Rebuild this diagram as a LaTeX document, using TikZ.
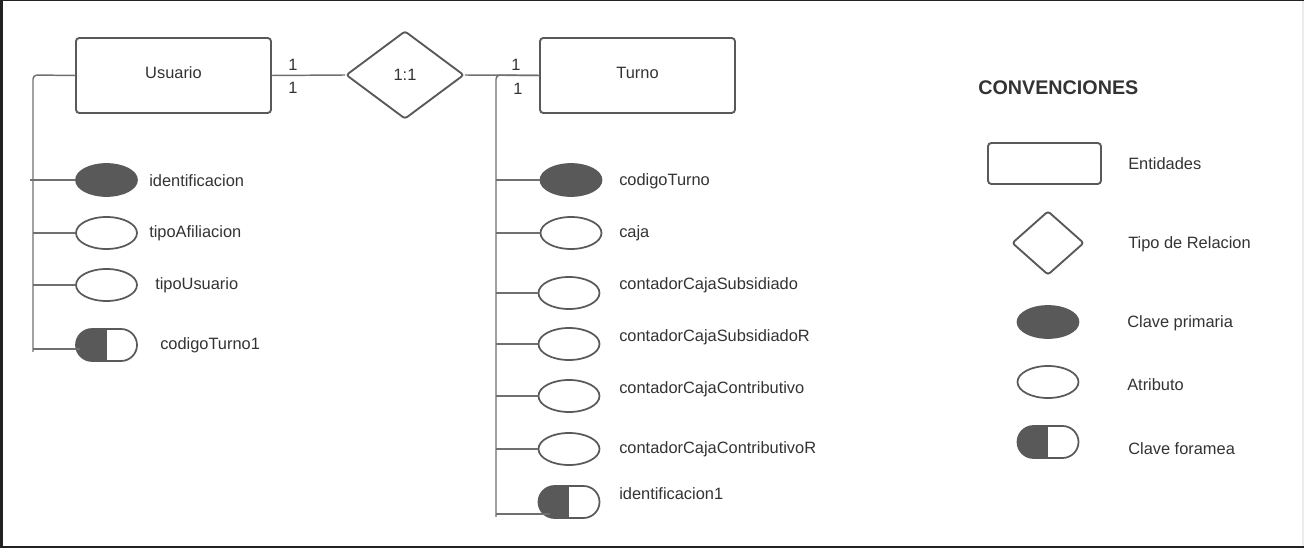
\documentclass[tikz,border=0pt]{standalone}
\usepackage{fontspec}
\setmainfont{Liberation Sans}
\usepackage{tikz}
\usetikzlibrary{shapes,positioning}
\usepackage{xcolor}
\definecolor{ergris}{RGB}{89,89,89}
\definecolor{erlinea}{RGB}{112,112,112}
\definecolor{ertexto}{RGB}{51,51,51}
\definecolor{erfondo}{RGB}{34,34,34}
\definecolor{erborde}{RGB}{236,236,236}
\tikzstyle{entidad} = [rectangle, rounded corners=2.5pt, minimum width=146.25pt, minimum height=56.25pt, inner sep=0pt, text height=0.75em, text depth=0.32em, draw=ergris, line width=1.4pt, fill=white, text=ertexto, font=\fontsize{12.3}{15}\selectfont]
\tikzstyle{relacion} = [diamond, rounded corners=2pt, minimum width=88.5pt, minimum height=66pt, inner sep=0pt, draw=ergris, line width=1.4pt, fill=white, text=ertexto, font=\fontsize{12.3}{15}\selectfont]
\tikzstyle{atributo} = [ellipse, minimum width=45.75pt, minimum height=24pt, inner sep=0pt, draw=ergris, line width=1.3pt, fill=white]
\tikzstyle{clavep} = [atributo, fill=ergris]
\tikzstyle{clavef} = [rounded rectangle, minimum width=45.75pt, minimum height=24pt, inner sep=0pt, draw=ergris, line width=1.3pt, fill=white,
  path picture={\fill[ergris] (path picture bounding box.south west) rectangle (path picture bounding box.north);}]
\tikzstyle{etiqueta} = [anchor=west, inner sep=0pt, yshift=-2pt, text height=0.75em, text depth=0.22em, text=ertexto, font=\fontsize{12.3}{15}\selectfont]
\tikzstyle{card} = [inner sep=0pt, text=ertexto, font=\fontsize{12.3}{15}\selectfont]
\tikzstyle{linea} = [line width=1.1pt, draw=erlinea]

\begin{document}
\begin{tikzpicture}[x=0.75pt, y=-0.75pt]
% marco
\fill[erfondo] (0,0) rectangle (1304,548);
\fill[white] (2.5,1.5) rectangle (1302,546);
\fill[erborde] (1302,1.5) rectangle (1304,546);
\useasboundingbox (0,0) rectangle (1304,548);

% entidades y relacion
\node[entidad] (usuario) at (173.5,75.5) {Usuario};
\node[relacion] (rel) at (405,75) {1:1};
\node[entidad] (turno) at (637.5,75.5) {Turno};

\draw[linea] (usuario.east) -- (rel.west);
\draw[linea] (rel.east) -- (turno.west);
\node[card] (c1) at (293,65) {1};
\node[card] (c2) at (293,88) {1};
\node[card] (c3) at (516,65) {1};
\node[card] (c4) at (518,89) {1};

% atributos de Usuario
\coordinate (troncoU) at (33,75);
\coordinate (finU) at (33,352);
\node[clavep] (idUs) at (106.5,180) {};
\node[atributo] (tipoAf) at (106.5,233) {};
\node[atributo] (tipoUs) at (106.5,285) {};
\node[clavef] (codTu1) at (106.5,345) {};
\coordinate (codTu1in) at (80,349);
\coordinate (idUsfin) at (30,180);

\draw[linea, rounded corners=3pt] (usuario.west) -- (troncoU) -- (finU);
\draw[linea] (idUs.west) -- (idUsfin);
\draw[linea] (tipoAf.west) -- (tipoAf.west -| troncoU);
\draw[linea] (tipoUs.west) -- (tipoUs.west -| troncoU);
\draw[linea] (codTu1in) -- (codTu1in -| troncoU);

\node[etiqueta] (tIdUs) at (149,180) {identificacion};
\node[etiqueta] (tTipoAf) at (149,231) {tipoAfiliacion};
\node[etiqueta] (tTipoUs) at (155,283) {tipoUsuario};
\node[etiqueta] (tCodTu1) at (160,343) {codigoTurno1};

% atributos de Turno
\coordinate (troncoT) at (496,75);
\coordinate (finT) at (496,517);
\node[clavep] (codTu) at (571,180) {};
\node[atributo] (caja) at (571,233) {};
\node[atributo] (cSub) at (569,293) {};
\node[atributo] (cSubR) at (569,344) {};
\node[atributo] (cCon) at (569,396) {};
\node[atributo] (cConR) at (569,449) {};
\node[clavef] (idUs1) at (569,502) {};
\coordinate (idUs1in) at (550,514);

\draw[linea, rounded corners=3pt] (turno.west) -- (troncoT) -- (finT);
\foreach \n in {codTu,caja,cSub,cSubR,cCon,cConR}
  \draw[linea] (\n.west) -- (\n.west -| troncoT);
\draw[linea] (idUs1in) -- (idUs1in -| troncoT);

\node[etiqueta] (tCodTu) at (619,179) {codigoTurno};
\node[etiqueta] (tCaja) at (619,231) {caja};
\node[etiqueta] (tSub) at (619,283) {contadorCajaSubsidiado};
\node[etiqueta] (tSubR) at (619,335) {contadorCajaSubsidiadoR};
\node[etiqueta] (tCon) at (619,387) {contadorCajaContributivo};
\node[etiqueta] (tConR) at (619,447) {contadorCajaContributivoR};
\node[etiqueta] (tIdUs1) at (619,493) {identificacion1};

% convenciones
\node[etiqueta, font=\fontsize{14.8}{17}\bfseries] (conv) at (978,88) {CONVENCIONES};
\node[entidad, minimum width=84.75pt, minimum height=30.75pt] (lEnt) at (1044.5,163.5) {};
\node[relacion, minimum width=54pt, minimum height=48pt] (lRel) at (1048,243) {};
\node[clavep] (lCp) at (1048,322) {};
\node[atributo] (lAt) at (1048,382) {};
\node[clavef] (lCf) at (1048,442) {};
\node[etiqueta] (tEnt) at (1128,163) {Entidades};
\node[etiqueta] (tRel) at (1128,242) {Tipo de Relacion};
\node[etiqueta] (tCp) at (1127,321) {Clave primaria};
\node[etiqueta] (tAt) at (1127,384) {Atributo};
\node[etiqueta] (tCf) at (1128,448) {Clave foramea};
\end{tikzpicture}
\end{document}
